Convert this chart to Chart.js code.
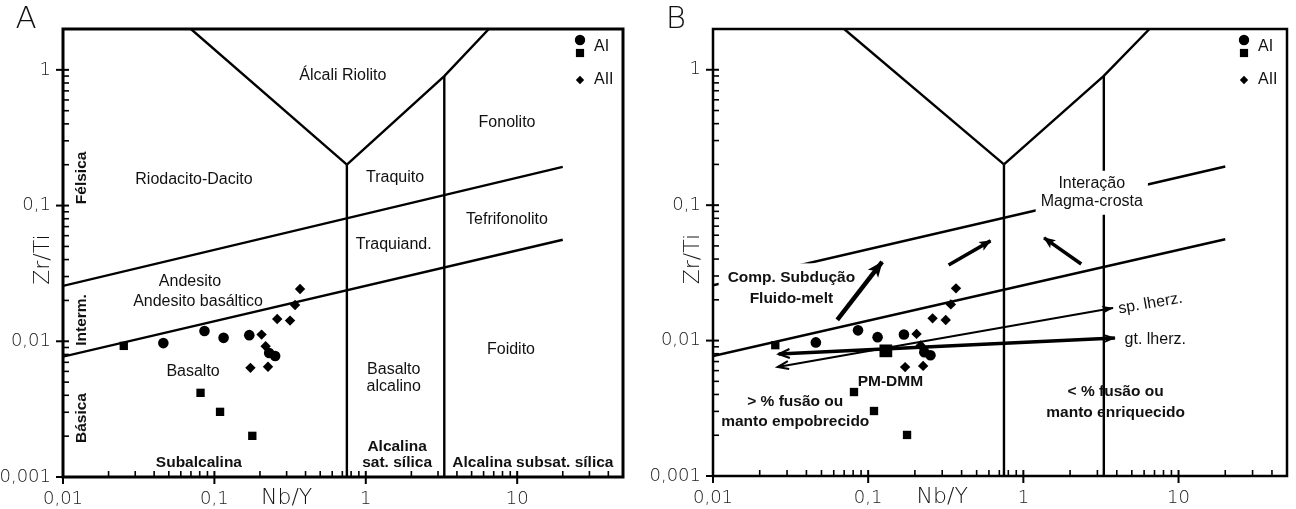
<!DOCTYPE html>
<html>
<head>
<meta charset="utf-8">
<script src="https://cdn.jsdelivr.net/npm/chart.js@4.4.1/dist/chart.umd.min.js"></script>
<style>
  html, body { margin: 0; padding: 0; background: #fff; }
  #wrap { position: relative; width: 1296px; height: 509px; }
  canvas { position: absolute; top: 0; }
  #chartA { left: 0; }
  #chartB { left: 648px; }
</style>
</head>
<body>
<div id="wrap">
  <canvas id="chartA" width="648" height="509"></canvas>
  <canvas id="chartB" width="648" height="509"></canvas>
</div>
<script>
// axes
const xRange = [0.01, 50];
const yRange = [0.001, 2];
const xTicks = [0.01, 0.1, 1, 10];
const yTicks = [0.001, 0.01, 0.1, 1];

// samples, Nb/Y and Zr/Ti
const aiCircleX = [0.046, 0.086, 0.115, 0.17, 0.23, 0.252];
const aiCircleY = [0.0097, 0.0119, 0.0106, 0.0111, 0.0082, 0.0078];
const aiSquareX = [0.0252, 0.081, 0.109, 0.178];
const aiSquareY = [0.00925, 0.00417, 0.00302, 0.00201];
const aiiX = [0.173, 0.205, 0.218, 0.226, 0.26, 0.316, 0.341, 0.368];
const aiiY = [0.00637, 0.0112, 0.0092, 0.0065, 0.0146, 0.0142, 0.0185, 0.0243];
const pmDmmX = [0.13];
const pmDmmY = [0.0084];

// field boundaries
const leftArm = [[0.07, 2], [0.75, 0.2]];
const rightArm = [[0.75, 0.2], [3.3, 0.9], [6.5, 2]];
const divider1 = [[0.75, 0.001], [0.75, 0.2]];
const divider2 = [[3.3, 0.001], [3.3, 0.9]];
const upperLine = [[0.01, 0.0256], [20, 0.193]];
const lowerLine = [[0.01, 0.0077], [20, 0.056]];

// trend arrows (panel B)
const arrowComp = [[0.0632, 0.0142], [0.123, 0.0381]];
const arrowGt = [[0.0265, 0.00796], [3.89, 0.01045]];
const arrowSp = [[0.0261, 0.00638], [3.78, 0.0174]];
const arrowUpRight = [[0.33, 0.0362], [0.614, 0.0545]];
const arrowUpLeft = [[2.36, 0.0368], [1.36, 0.0573]];

const labelsA = [
  { t: ['Álcali Riolito'], x: 0.706, y: 0.9 },
  { t: ['Riodacito-Dacito'], x: 0.0733, y: 0.155 },
  { t: ['Fonolito'], x: 8.57, y: 0.406 },
  { t: ['Traquito'], x: 1.56, y: 0.16 },
  { t: ['Tefrifonolito'], x: 8.57, y: 0.0784 },
  { t: ['Traquiand.'], x: 1.53, y: 0.0514 },
  { t: ['Andesito'], x: 0.069, y: 0.0274 },
  { t: ['Andesito basáltico'], x: 0.078, y: 0.0195 },
  { t: ['Basalto'], x: 0.0723, y: 0.00594 },
  { t: ['Basalto', 'alcalino'], x: 1.53, y: 0.00532, lh: 17 },
  { t: ['Foidito'], x: 9.1, y: 0.00863 },
  { t: ['Subalcalina'], x: 0.079, y: 0.00127, bold: true },
  { t: ['Alcalina', 'sat. sílica'], x: 1.61, y: 0.00145, bold: true, lh: 16 },
  { t: ['Alcalina subsat. sílica'], x: 12.7, y: 0.00127, bold: true },
  { t: ['Félsica'], x: 0.0132, y: 0.16, bold: true, rot: -Math.PI / 2 },
  { t: ['Interm.'], x: 0.0132, y: 0.01436, bold: true, rot: -Math.PI / 2 },
  { t: ['Básica'], x: 0.0132, y: 0.00272, bold: true, rot: -Math.PI / 2 },
];

const labelsB = [
  { t: ['Interação', 'Magma-crosta'], x: 2.76, y: 0.1235, lh: 18, bg: 'box' },
  { t: ['Comp. Subdução', 'Fluido-melt'], x: 0.032, y: 0.0243, lh: 21, bold: true, bg: 'lines' },
  { t: ['PM-DMM'], x: 0.139, y: 0.00496, bold: true },
  { t: ['> % fusão ou', 'manto empobrecido'], x: 0.0339, y: 0.00297, lh: 20, bold: true },
  { t: ['< % fusão ou', 'manto enriquecido'], x: 3.93, y: 0.00352, lh: 21, bold: true },
  { t: ['sp. lherz.'], x: 4.1, y: 0.0171, align: 'left', rot: -0.17 },
  { t: ['gt. lherz.'], x: 4.49, y: 0.0101, align: 'left' },
];

const textFont = '"Liberation Sans", Arial, sans-serif';
const thinFont = '"DejaVu Sans", sans-serif';

const pts = (xs, ys) => xs.map((x, i) => ({ x, y: ys[i] }));
const seg = arr => arr.map(([x, y]) => ({ x, y }));

function sampleDatasets() {
  const base = { backgroundColor: '#000', borderWidth: 0, order: 0 };
  return [
    { ...base, data: pts(aiCircleX, aiCircleY), pointStyle: 'circle', pointRadius: 5.3 },
    { ...base, data: pts(aiSquareX, aiSquareY), pointStyle: 'rect', pointRadius: 5.9 },
    { ...base, data: pts(aiiX, aiiY), pointStyle: 'rectRot', pointRadius: 5.2 },
  ];
}

function boundaryDatasets() {
  return [leftArm, rightArm, divider1, divider2, upperLine, lowerLine].map(d => ({
    type: 'line', data: seg(d), borderColor: '#000', borderWidth: 2.4,
    pointRadius: 0, fill: false, tension: 0, order: 2,
  }));
}

function arrowDataset(d, width, heads, headSize) {
  return {
    type: 'line', data: seg(d), borderColor: '#000', borderWidth: width,
    pointRadius: 0, fill: false, order: 1, heads, headSize,
  };
}

//arrow heads
function drawHead(ctx, from, to, style, size, lw) {
  const ang = Math.atan2(to.y - from.y, to.x - from.x);
  ctx.save();
  ctx.translate(to.x, to.y);
  ctx.rotate(ang);
  ctx.beginPath();
  if (style === 'filled') {
    ctx.moveTo(1, 0);
    ctx.lineTo(-size[0], -size[1] / 2);
    ctx.lineTo(-size[0] * 0.75, 0);
    ctx.lineTo(-size[0], size[1] / 2);
    ctx.closePath();
    ctx.fillStyle = '#000';
    ctx.fill();
  } else {
    ctx.moveTo(-size[0], -size[1] / 2);
    ctx.lineTo(0, 0);
    ctx.lineTo(-size[0], size[1] / 2);
    ctx.lineWidth = Math.min(lw, 2);
    ctx.strokeStyle = '#000';
    ctx.stroke();
  }
  ctx.restore();
}

function drawLabel(ctx, xs, ys, l) {
  const px = xs.getPixelForValue(l.x);
  const py = ys.getPixelForValue(l.y);
  const size = l.bold ? 15.5 : 16;
  const lh = l.lh || 19;
  const n = l.t.length;
  ctx.save();
  ctx.font = `${l.bold ? 'bold ' : ''}${size}px ${textFont}`;
  ctx.translate(px, py);
  if (l.rot) ctx.rotate(l.rot);
  ctx.textAlign = l.align || 'center';
  ctx.textBaseline = 'middle';
  const widths = l.t.map(s => ctx.measureText(s).width);
  ctx.fillStyle = '#fff';
  if (l.bg === 'box') {
    const w = Math.max(...widths) + 10;
    const h = n * lh + 8;
    ctx.fillRect(-w / 2, -h / 2, w, h);
  } else if (l.bg === 'lines') {
    l.t.forEach((s, i) => {
      const cy = (i - (n - 1) / 2) * lh;
      ctx.fillRect(-widths[i] / 2 - 9, cy - lh / 2 - 4, widths[i] + 11, lh + 4);
    });
  }
  ctx.fillStyle = '#111';
  l.t.forEach((s, i) => ctx.fillText(s, 0, (i - (n - 1) / 2) * lh));
  ctx.restore();
}

function logSteps(min, max) {
  const out = [];
  for (let e = Math.floor(Math.log10(min)); e <= Math.ceil(Math.log10(max)); e++) {
    for (let m = 1; m <= 9; m++) {
      const v = m * Math.pow(10, e);
      if (v >= min * 0.999 && v <= max * 1.001) out.push({ value: v, major: m === 1 });
    }
  }
  return out;
}

function drawAxisTicks(ctx, chart) {
  const { x, y } = chart.scales;
  const a = chart.chartArea;
  ctx.strokeStyle = '#000';
  logSteps(x.min, x.max).forEach(t => {
    const p = x.getPixelForValue(t.value);
    ctx.lineWidth = t.major ? 2 : 1.6;
    ctx.beginPath();
    ctx.moveTo(p, a.bottom - 6);
    ctx.lineTo(p, t.major ? a.bottom + 7 : a.bottom);
    ctx.stroke();
  });
  logSteps(y.min, y.max).forEach(t => {
    const p = y.getPixelForValue(t.value);
    ctx.lineWidth = t.major ? 2 : 1.6;
    ctx.beginPath();
    ctx.moveTo(a.left + 6, p);
    ctx.lineTo(t.major ? a.left - 7 : a.left, p);
    ctx.stroke();
  });
}

function drawLegend(ctx, a) {
  const mx = a.right - 43, tx = a.right - 29;
  const dp = Chart.helpers.drawPoint;
  ctx.fillStyle = '#000';
  dp(ctx, { pointStyle: 'circle', radius: 5.2, rotation: 0 }, mx, a.top + 11);
  dp(ctx, { pointStyle: 'rect', radius: 5.8, rotation: 0 }, mx, a.top + 24);
  dp(ctx, { pointStyle: 'rectRot', radius: 4.2, rotation: 0 }, mx, a.top + 51);
  ctx.font = `16px ${textFont}`;
  ctx.textAlign = 'left';
  ctx.textBaseline = 'middle';
  ctx.fillStyle = '#111';
  ctx.fillText('AI', tx, a.top + 18);
  ctx.fillText('AII', tx, a.top + 51);
}

const diagramPlugin = {
  id: 'diagram',
  afterDatasetsDraw(chart, args, opts) {
    const ctx = chart.ctx;
    const { x: xs, y: ys } = chart.scales;
    const a = chart.chartArea;
    ctx.save();
    chart.data.datasets.forEach((ds, i) => {
      if (!ds.heads) return;
      const p = chart.getDatasetMeta(i).data;
      const s = p[0], e = p[p.length - 1];
      if (ds.heads[0]) drawHead(ctx, e, s, ds.heads[0], ds.headSize, ds.borderWidth);
      if (ds.heads[1]) drawHead(ctx, s, e, ds.heads[1], ds.headSize, ds.borderWidth);
    });
    opts.labels.forEach(l => drawLabel(ctx, xs, ys, l));

    ctx.lineWidth = opts.frameWidth;
    ctx.strokeStyle = '#000';
    ctx.strokeRect(a.left, a.top, a.right - a.left, a.bottom - a.top);
    drawAxisTicks(ctx, chart);
    drawLegend(ctx, a);

    // axis titles and panel letter
    ctx.fillStyle = '#111';
    ctx.textAlign = 'center';
    ctx.textBaseline = 'middle';
    ctx.font = `200 22px ${thinFont}`;
    ctx.fillText('Nb/Y', xs.getPixelForValue(0.3), a.bottom + 21);
    ctx.save();
    ctx.translate(a.left - 20, ys.getPixelForValue(0.04));
    ctx.rotate(-Math.PI / 2);
    ctx.fillText('Zr/Ti', 0, 0);
    ctx.restore();
    ctx.font = `200 31px ${thinFont}`;
    ctx.fillText(opts.letter, a.left - 37, 20);
    ctx.restore();
  },
};

const commaLabel = v => String(v).replace('.', ',');

function makeChart(id, datasets, labels, letter, yWidth, xHeight, padRight, frameWidth) {
  return new Chart(document.getElementById(id), {
    type: 'scatter',
    data: { datasets },
    options: {
      responsive: false,
      animation: false,
      events: [],
      layout: { padding: { left: 0, top: 29, right: padRight, bottom: 0 } },
      plugins: {
        legend: { display: false },
        tooltip: { enabled: false },
        diagram: { labels, letter, frameWidth },
      },
      scales: {
        x: {
          type: 'logarithmic',
          min: xRange[0],
          max: xRange[1],
          afterBuildTicks: s => { s.ticks = xTicks.map(v => ({ value: v })); },
          afterFit: s => { s.height = xHeight; },
          grid: { display: false, drawTicks: false },
          border: { display: false },
          ticks: {
            callback: commaLabel, autoSkip: false, maxRotation: 0, padding: 12,
            color: '#222', font: { family: thinFont, size: 18, weight: '200' },
          },
        },
        y: {
          type: 'logarithmic',
          min: yRange[0],
          max: yRange[1],
          afterBuildTicks: s => { s.ticks = yTicks.map(v => ({ value: v })); },
          afterFit: s => { s.width = yWidth; },
          grid: { display: false, drawTicks: false },
          border: { display: false },
          ticks: {
            callback: commaLabel, autoSkip: false, padding: 12,
            color: '#222', font: { family: thinFont, size: 18, weight: '200' },
          },
        },
      },
    },
    plugins: [diagramPlugin],
  });
}

makeChart('chartA', [...sampleDatasets(), ...boundaryDatasets()], labelsA, 'A', 63, 32, 25, 3);

const pmDmm = {
  data: pts(pmDmmX, pmDmmY), pointStyle: 'rect', pointRadius: 9,
  backgroundColor: '#000', borderWidth: 0, order: 0,
};
makeChart('chartB', [
  ...sampleDatasets(),
  pmDmm,
  ...boundaryDatasets(),
  arrowDataset(arrowComp, 4.5, [null, 'filled'], [15, 13]),
  arrowDataset(arrowGt, 3.5, ['open', 'filled'], [11, 9]),
  arrowDataset(arrowSp, 2, ['open', 'filled'], [11, 8]),
  arrowDataset(arrowUpRight, 3.5, [null, 'filled'], [11, 10]),
  arrowDataset(arrowUpLeft, 3.5, [null, 'filled'], [11, 10]),
], labelsB, 'B', 65, 33, 4, 2.5);
</script>
</body>
</html>
